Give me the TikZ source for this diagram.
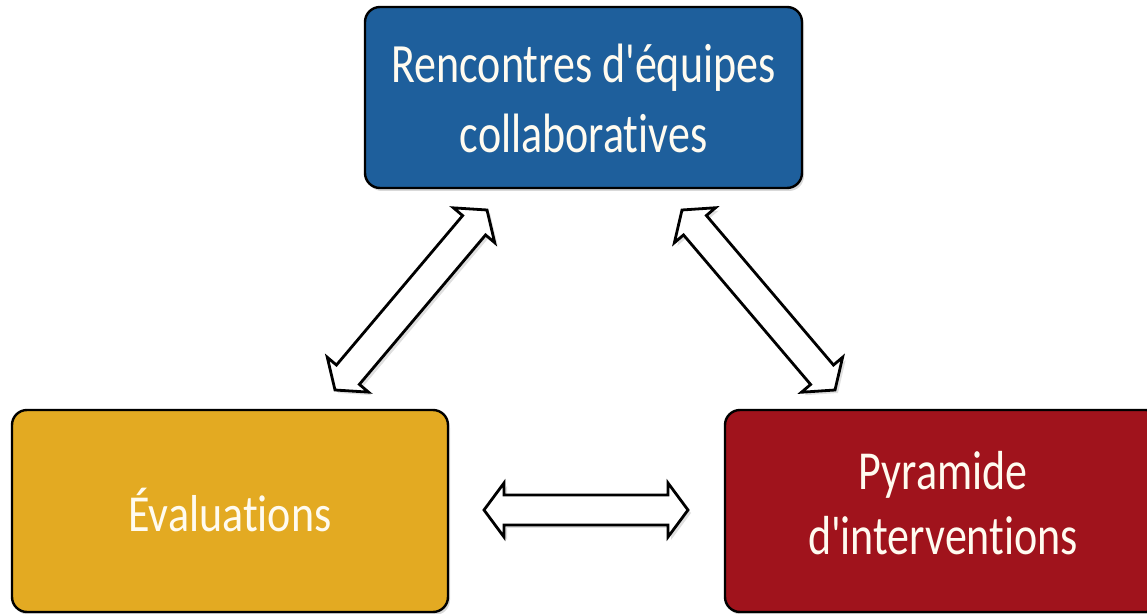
\documentclass[tikz,border=0pt]{standalone}
\usepackage{fontspec}
\setmainfont{Carlito}[Ligatures={TeX,NoCommon}]
\usetikzlibrary{calc,shadows}
\definecolor{boxblue}{HTML}{1E5F9C}
\definecolor{boxgold}{HTML}{E3AA22}
\definecolor{boxred}{HTML}{A0131C}
\definecolor{txtcream}{HTML}{FFFBF0}
\tikzset{
  box/.style={draw=black, line width=1.2pt, rounded corners=7.5pt, text=txtcream,
    inner sep=0pt, drop shadow={shadow xshift=1pt, shadow yshift=-1.5pt, opacity=0.3}},
  arrowbody/.style={draw=black, line width=1.4pt, fill=white, line join=miter,
    drop shadow={shadow xshift=1.5pt, shadow yshift=-1.5pt, opacity=0.25}},
  boxlabel/.style={text=txtcream, inner sep=0pt},
}
\newcommand{\boxtext}[3]{\scalebox{1}[#1]{\fontsize{22pt}{#2}\selectfont\begin{tabular}{@{}c@{}}#3\end{tabular}}}
\newcommand{\dblarrow}[2]{%
  \path[arrowbody] (#1)
    -- ($(#1)!10pt!(#2)!13.5pt!90:(#2)$)
    -- ($(#1)!10pt!(#2)!7.5pt!90:(#2)$)
    -- ($(#2)!10pt!(#1)!7.5pt!90:(#2)$)
    -- ($(#2)!10pt!(#1)!13.5pt!90:(#2)$)
    -- (#2)
    -- ($(#2)!10pt!(#1)!13.5pt!-90:(#2)$)
    -- ($(#2)!10pt!(#1)!7.5pt!-90:(#2)$)
    -- ($(#1)!10pt!(#2)!7.5pt!-90:(#2)$)
    -- ($(#1)!10pt!(#2)!13.5pt!-90:(#2)$)
    -- cycle;}
\begin{document}
\begin{tikzpicture}[x=0.5pt, y=-0.5pt]
  \useasboundingbox (0,0) rectangle (1147,614);
  \clip (0,0) rectangle (1147,614);
  % boxes
  \node[box, fill=boxblue, minimum width=218.5pt, minimum height=90.5pt] (rec) at (583.5,97.5) {};
  \node[box, fill=boxgold, minimum width=218pt, minimum height=101pt] (eval) at (230,511) {};
  \node[box, fill=boxred, minimum width=218pt, minimum height=101pt] (pyr) at (943,511) {};
  % texts
  \node[boxlabel] (rect) at ([yshift=-3.1pt]rec.center) {\boxtext{1.26}{27.4pt}{Rencontres d\textquotesingle équipes\\collaboratives}};
  \node[boxlabel] (evalt) at ([yshift=-3pt]eval.center) {\boxtext{1.18}{21.5pt}{Évaluations}};
  \node[boxlabel] (pyrt) at ([yshift=0.75pt]pyr.center) {\boxtext{1.25}{26pt}{Pyramide\\d\textquotesingle interventions}};
  % arrow ends
  \coordinate (la) at (487,210);
  \coordinate (lb) at (335,390);
  \coordinate (ra) at (682,210);
  \coordinate (rb) at (835,390);
  \coordinate (ha) at (484,510);
  \coordinate (hb) at (688,510);
  \dblarrow{la}{lb}
  \dblarrow{ra}{rb}
  \dblarrow{ha}{hb}
\end{tikzpicture}
\end{document}
